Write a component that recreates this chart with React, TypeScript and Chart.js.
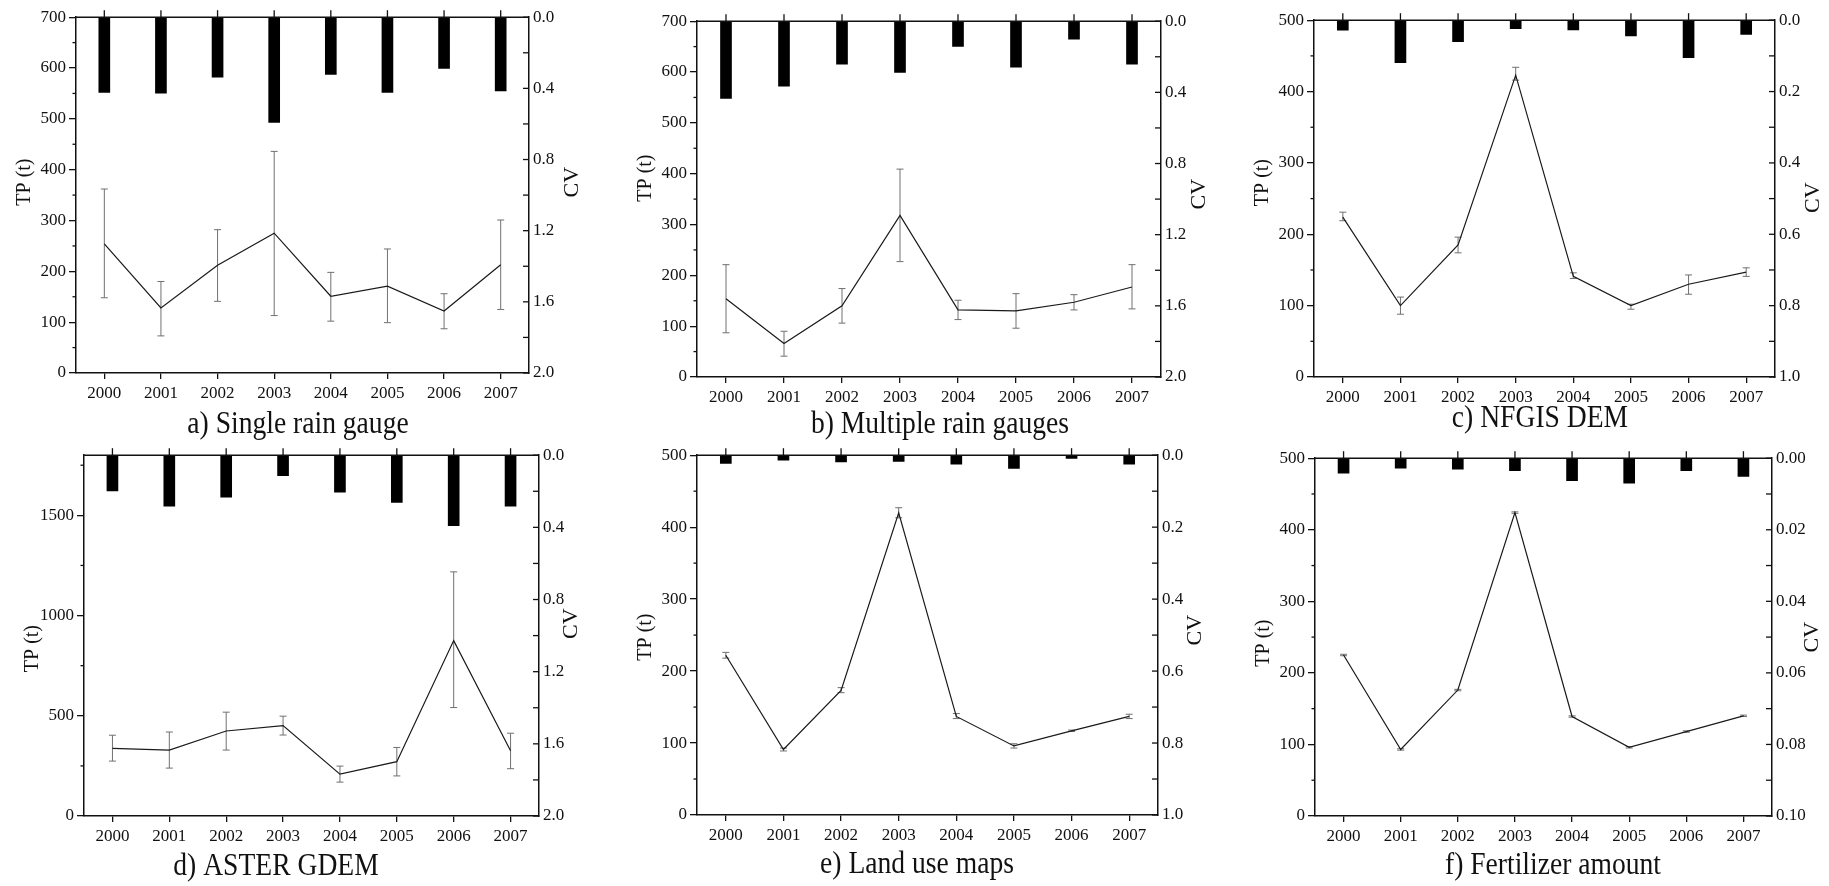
import React, { useEffect, useRef } from 'react';
import { Chart, registerables } from 'chart.js';

Chart.register(...registerables);

const FONT = "'Liberation Serif', 'Times New Roman', serif";
const INK = '#111111';

Chart.defaults.font.family = FONT;
Chart.defaults.font.size = 17;
Chart.defaults.color = INK;

const years = ['2000', '2001', '2002', '2003', '2004', '2005', '2006', '2007'];

// a) Single rain gauge
const tpA = [254, 128, 212, 275, 151, 171, 122, 213];
const tpLowA = [148, 73, 141, 113, 102, 99, 87, 125];
const tpHighA = [362, 180, 282, 436, 198, 244, 156, 301];
const cvA = [0.423, 0.427, 0.337, 0.592, 0.322, 0.423, 0.288, 0.414];
const tpTicksA = ['0', '100', '200', '300', '400', '500', '600', '700'];
const tpRangeA = [0, 700];
const cvTicksA = ['0.0', '0.4', '0.8', '1.2', '1.6', '2.0'];
const cvRangeA = [0, 2.0];

// b) Multiple rain gauges
const tpB = [154, 66, 140, 318, 132, 130, 147, 177];
const tpLowB = [87, 41, 106, 227, 113, 96, 132, 134];
const tpHighB = [221, 90, 174, 409, 151, 164, 162, 221];
const cvB = [0.434, 0.365, 0.242, 0.288, 0.142, 0.258, 0.101, 0.242];
const tpTicksB = ['0', '100', '200', '300', '400', '500', '600', '700'];
const tpRangeB = [0, 700];
const cvTicksB = ['0.0', '0.4', '0.8', '1.2', '1.6', '2.0'];
const cvRangeB = [0, 2.0];

// c) NFGIS DEM
const tpC = [224, 100, 185, 423, 141, 100, 130, 147];
const tpLowC = [219, 88, 174, 416, 138, 95, 116, 141];
const tpHighC = [231, 112, 196, 434, 146, 102, 143, 153];
const cvC = [0.028, 0.119, 0.06, 0.024, 0.027, 0.044, 0.105, 0.04];
const tpTicksC = ['0', '100', '200', '300', '400', '500'];
const tpRangeC = [0, 500];
const cvTicksC = ['0.0', '0.2', '0.4', '0.6', '0.8', '1.0'];
const cvRangeC = [0, 1.0];

// d) ASTER GDEM
const tpD = [337, 329, 424, 451, 209, 271, 875, 326];
const tpLowD = [274, 239, 329, 404, 169, 200, 541, 236];
const tpHighD = [403, 419, 518, 498, 249, 342, 1218, 413];
const cvD = [0.198, 0.283, 0.233, 0.113, 0.205, 0.262, 0.39, 0.283];
const tpTicksD = ['0', '500', '1000', '1500'];
const tpRangeD = [0, 1800];
const cvTicksD = ['0.0', '0.4', '0.8', '1.2', '1.6', '2.0'];
const cvRangeD = [0, 2.0];

// e) Land use maps
const tpE = [222, 91, 173, 420, 137, 96, 117, 137];
const tpLowE = [218, 89, 170, 413, 134, 93, 116, 134];
const tpHighE = [226, 93, 177, 427, 141, 99, 118, 140];
const cvE = [0.023, 0.014, 0.019, 0.017, 0.025, 0.037, 0.009, 0.025];
const tpTicksE = ['0', '100', '200', '300', '400', '500'];
const tpRangeE = [0, 500];
const cvTicksE = ['0.0', '0.2', '0.4', '0.6', '0.8', '1.0'];
const cvRangeE = [0, 1.0];

// f) Fertilizer amount
const tpF = [225, 93, 176, 424, 139, 96, 118, 140];
const tpLowF = [224, 92, 175, 423, 138, 95, 117, 139];
const tpHighF = [226, 94, 177, 425, 140, 97, 119, 141];
const cvF = [0.0042, 0.0028, 0.0031, 0.0035, 0.0063, 0.007, 0.0035, 0.0051];
const tpTicksF = ['0', '100', '200', '300', '400', '500'];
const tpRangeF = [0, 500];
const cvTicksF = ['0.00', '0.02', '0.04', '0.06', '0.08', '0.10'];
const cvRangeF = [0, 0.1];

const panelTitles = [
  'a) Single rain gauge',
  'b) Multiple rain gauges',
  'c) NFGIS DEM',
  'd) ASTER GDEM',
  'e) Land use maps',
  'f) Fertilizer amount',
];

type Panel = {
  title: string;
  tp: number[];
  low: number[];
  high: number[];
  cv: number[];
  tpTicks: string[];
  tpRange: number[];
  cvTicks: string[];
  cvRange: number[];
};

const panels: Panel[] = [
  { title: panelTitles[0], tp: tpA, low: tpLowA, high: tpHighA, cv: cvA, tpTicks: tpTicksA, tpRange: tpRangeA, cvTicks: cvTicksA, cvRange: cvRangeA },
  { title: panelTitles[1], tp: tpB, low: tpLowB, high: tpHighB, cv: cvB, tpTicks: tpTicksB, tpRange: tpRangeB, cvTicks: cvTicksB, cvRange: cvRangeB },
  { title: panelTitles[2], tp: tpC, low: tpLowC, high: tpHighC, cv: cvC, tpTicks: tpTicksC, tpRange: tpRangeC, cvTicks: cvTicksC, cvRange: cvRangeC },
  { title: panelTitles[3], tp: tpD, low: tpLowD, high: tpHighD, cv: cvD, tpTicks: tpTicksD, tpRange: tpRangeD, cvTicks: cvTicksD, cvRange: cvRangeD },
  { title: panelTitles[4], tp: tpE, low: tpLowE, high: tpHighE, cv: cvE, tpTicks: tpTicksE, tpRange: tpRangeE, cvTicks: cvTicksE, cvRange: cvRangeE },
  { title: panelTitles[5], tp: tpF, low: tpLowF, high: tpHighF, cv: cvF, tpTicks: tpTicksF, tpRange: tpRangeF, cvTicks: cvTicksF, cvRange: cvRangeF },
];

// layout: plot-area placement on the page and label offsets
type Layout = { left: number; top: number; w: number; h: number; titleDx: number; titleDy: number; tpDy: number; cvDx: number; cvDy: number };
const layouts: Layout[] = [
  { left: 76, top: 17, w: 453, h: 356, titleDx: 222, titleDy: 60, tpDy: -13, cvDx: 43, cvDy: -13 },
  { left: 697, top: 21, w: 464, h: 356, titleDx: 243, titleDy: 56, tpDy: -21, cvDx: 38, cvDy: -5 },
  { left: 1314, top: 20, w: 461, h: 357, titleDx: 226, titleDy: 50, tpDy: -16, cvDx: 38, cvDy: -1 },
  { left: 84, top: 455, w: 455, h: 361, titleDx: 192, titleDy: 59, tpDy: 13, cvDx: 32, cvDy: -12 },
  { left: 697, top: 455, w: 461, h: 360, titleDx: 220, titleDy: 58, tpDy: 2, cvDx: 37, cvDy: -5 },
  { left: 1315, top: 458, w: 457, h: 358, titleDx: 238, titleDy: 58, tpDy: 6, cvDx: 40, cvDy: 0 },
];

const LEFT_W = 75;
const RIGHT_W = 52;
const TOP_H = 14;
const BOTTOM_H = 75;

function labelFor(labels: string[], v: number) {
  let best = '';
  let bd = Infinity;
  labels.forEach((l) => {
    const d = Math.abs(Number(l) - v);
    if (d < bd) {
      bd = d;
      best = l;
    }
  });
  return best;
}

function PanelChart({ p, l }: { p: Panel; l: Layout }) {
  const ref = useRef<HTMLCanvasElement | null>(null);

  useEffect(() => {
    if (!ref.current) return;
    const tpVals = p.tpTicks.map(Number);
    const cvVals = p.cvTicks.map(Number);

    const decor = {
      id: 'decor',
      beforeDatasetsDraw(chart: any) {
        const { ctx, scales } = chart;
        const x = scales.x;
        const y = scales.y;
        ctx.save();
        ctx.strokeStyle = '#707070';
        ctx.lineWidth = 1;
        p.tp.forEach((_, i) => {
          const px = x.getPixelForValue(i);
          const y1 = y.getPixelForValue(p.low[i]);
          const y2 = y.getPixelForValue(p.high[i]);
          ctx.beginPath();
          ctx.moveTo(px, y1);
          ctx.lineTo(px, y2);
          ctx.moveTo(px - 3.5, y1);
          ctx.lineTo(px + 3.5, y1);
          ctx.moveTo(px - 3.5, y2);
          ctx.lineTo(px + 3.5, y2);
          ctx.stroke();
        });
        ctx.restore();
      },
      afterDraw(chart: any) {
        const { ctx, chartArea: ca, scales } = chart;
        const x = scales.x;
        const y = scales.y;
        const y1 = scales.y1;
        ctx.save();
        ctx.strokeStyle = INK;
        ctx.lineWidth = 1.5;
        // top frame line
        ctx.beginPath();
        ctx.moveTo(ca.left, ca.top);
        ctx.lineTo(ca.right, ca.top);
        ctx.stroke();
        ctx.lineWidth = 1.3;
        // top ticks at category centres
        years.forEach((_, i) => {
          const px = x.getPixelForValue(i);
          ctx.beginPath();
          ctx.moveTo(px, ca.top);
          ctx.lineTo(px, ca.top - 7);
          ctx.stroke();
        });
        // left minor ticks
        const tStep = tpVals[1] - tpVals[0];
        for (let v = tStep / 2; v < p.tpRange[1]; v += tStep) {
          const py = y.getPixelForValue(v);
          ctx.beginPath();
          ctx.moveTo(ca.left, py);
          ctx.lineTo(ca.left - 3.5, py);
          ctx.stroke();
        }
        // right ticks (inward), major and minor
        const cStep = cvVals[1] - cvVals[0];
        for (let k = 0; k <= (cvVals.length - 1) * 2; k++) {
          const v = (k * cStep) / 2;
          const py = y1.getPixelForValue(v);
          ctx.beginPath();
          ctx.moveTo(ca.right, py);
          ctx.lineTo(ca.right - 6, py);
          ctx.stroke();
        }
        // axis titles
        const midY = (ca.top + ca.bottom) / 2;
        ctx.fillStyle = INK;
        ctx.textAlign = 'center';
        ctx.textBaseline = 'middle';
        ctx.save();
        ctx.translate(ca.left - 51, midY + l.tpDy);
        ctx.rotate(-Math.PI / 2);
        ctx.font = `20px ${FONT}`;
        ctx.fillText('TP (t)', 0, 0);
        ctx.restore();
        ctx.save();
        ctx.translate(ca.right + l.cvDx, midY + l.cvDy);
        ctx.rotate(-Math.PI / 2);
        ctx.font = `22px ${FONT}`;
        ctx.fillText('CV', 0, 0);
        ctx.restore();
        // panel title
        ctx.save();
        ctx.translate(ca.left + l.titleDx, ca.bottom + l.titleDy);
        ctx.scale(0.89, 1);
        ctx.font = `31px ${FONT}`;
        ctx.textBaseline = 'alphabetic';
        ctx.fillText(p.title, 0, 0);
        ctx.restore();
        ctx.restore();
      },
    };

    const tickFont = { family: FONT, size: 17, style: 'normal' as const, weight: 'normal' as const, lineHeight: 1.2 };

    const chart = new Chart(ref.current, {
      type: 'bar',
      data: {
        labels: years,
        datasets: [
          {
            type: 'line',
            data: p.tp,
            yAxisID: 'y',
            borderColor: '#1a1a1a',
            borderWidth: 1.2,
            pointRadius: 0,
            tension: 0,
            fill: false,
            order: 0,
          } as any,
          {
            type: 'bar',
            data: p.cv,
            yAxisID: 'y1',
            backgroundColor: '#000000',
            borderWidth: 0,
            barThickness: 11,
            order: 1,
          } as any,
        ],
      },
      options: {
        responsive: false,
        animation: false,
        font: tickFont,
        layout: { padding: { top: TOP_H, left: 0, right: 0, bottom: 0 } },
        plugins: {
          legend: { display: false },
          tooltip: { enabled: false },
          title: { display: false },
        },
        scales: {
          x: {
            type: 'category',
            offset: true,
            grid: {
              display: true,
              drawOnChartArea: false,
              drawTicks: true,
              tickLength: 6,
              offset: false,
              color: INK,
              lineWidth: 1.3,
            },
            border: { display: true, color: INK, width: 1.5 },
            ticks: { color: INK, font: tickFont, padding: 4, maxRotation: 0, autoSkip: false },
            afterFit: (s: any) => {
              s.height = BOTTOM_H;
            },
          },
          y: {
            type: 'linear',
            position: 'left',
            min: p.tpRange[0],
            max: p.tpRange[1],
            afterBuildTicks: (s: any) => {
              s.ticks = tpVals.map((v) => ({ value: v }));
            },
            grid: { display: true, drawOnChartArea: false, drawTicks: true, tickLength: 7, color: INK, lineWidth: 1.3 },
            border: { display: true, color: INK, width: 1.5 },
            ticks: {
              color: INK,
              font: tickFont,
              padding: 3,
              callback: (v: any) => labelFor(p.tpTicks, Number(v)),
            },
            afterFit: (s: any) => {
              s.width = LEFT_W;
            },
          },
          y1: {
            type: 'linear',
            position: 'right',
            reverse: true,
            min: p.cvRange[0],
            max: p.cvRange[1],
            afterBuildTicks: (s: any) => {
              s.ticks = cvVals.map((v) => ({ value: v }));
            },
            grid: { display: true, drawOnChartArea: false, drawTicks: false, color: INK },
            border: { display: true, color: INK, width: 1.5 },
            ticks: {
              color: INK,
              font: tickFont,
              padding: 4,
              callback: (v: any) => labelFor(p.cvTicks, Number(v)),
            },
            afterFit: (s: any) => {
              s.width = RIGHT_W;
            },
          },
        },
      } as any,
      plugins: [decor],
    });
    return () => chart.destroy();
  }, [p, l]);

  const cw = LEFT_W + l.w + RIGHT_W;
  const ch = TOP_H + l.h + BOTTOM_H;
  return (
    <canvas
      ref={ref}
      width={cw}
      height={ch}
      style={{ position: 'absolute', left: l.left - LEFT_W, top: l.top - TOP_H, width: cw, height: ch }}
    />
  );
}

export default function App() {
  return (
    <div
      style={{
        position: 'absolute',
        left: 0,
        top: 0,
        width: 1829,
        height: 886,
        overflow: 'hidden',
        background: '#ffffff',
      }}
    >
      {panels.map((p, i) => (
        <PanelChart key={i} p={p} l={layouts[i]} />
      ))}
    </div>
  );
}
